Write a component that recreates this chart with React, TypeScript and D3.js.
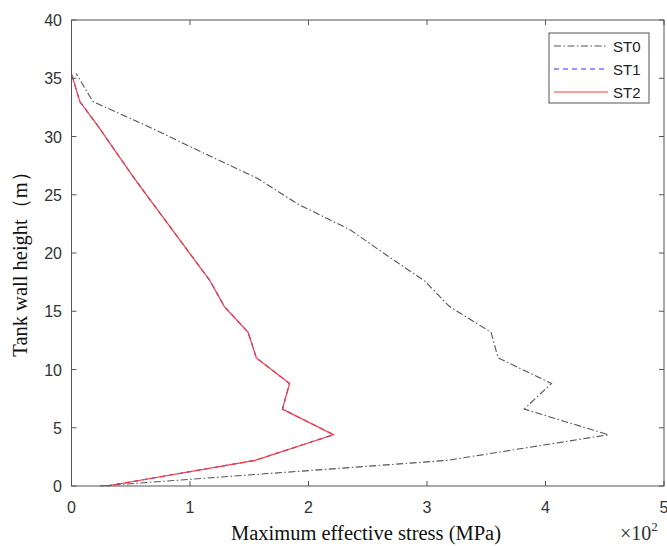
import React from "react";
import * as d3 from "d3";

const heights = [0, 2.2, 4.4, 6.6, 8.8, 11, 13.2, 15.4, 17.6, 19.8, 22, 24.2, 26.4, 28.6, 30.8, 33, 35.4];
const st0 = [0.24, 3.17, 4.53, 3.82, 4.05, 3.6, 3.54, 3.19, 2.98, 2.66, 2.35, 1.91, 1.57, 1.11, 0.66, 0.18, 0.04];
const st1 = [0.3, 1.55, 2.21, 1.78, 1.84, 1.56, 1.49, 1.29, 1.17, 1.01, 0.85, 0.69, 0.53, 0.38, 0.23, 0.07, 0.0];
const st2 = [0.3, 1.55, 2.21, 1.78, 1.84, 1.56, 1.49, 1.29, 1.17, 1.01, 0.85, 0.69, 0.53, 0.38, 0.23, 0.07, 0.0];
const seriesNames = ["ST0", "ST1", "ST2"];
const xTicks = [0, 1, 2, 3, 4, 5];
const yTicks = [0, 5, 10, 15, 20, 25, 30, 35, 40];

const W = 667, H = 546;
const L = 71.5, R = 664, T = 20, B = 486;

export default function App() {
  const x = d3.scaleLinear().domain([0, 5]).range([L, R]);
  const y = d3.scaleLinear().domain([0, 40]).range([B, T]);
  const line = d3.line<[number, number]>().x(d => x(d[0])).y(d => y(d[1]));
  const mk = (vals: number[]) => line(vals.map((v, i) => [v, heights[i]] as [number, number])) || "";
  const styles = [
    { stroke: "#555", dash: "7,2.5,1.5,2.5", width: 1.1 },
    { stroke: "#3030ff", dash: "5,4", width: 1.2 },
    { stroke: "#ff3b3b", dash: "", width: 1.2 },
  ];
  const data = [st0, st1, st2];
  const axisColor = "#555";
  const tickFont = "'Liberation Sans', Arial, sans-serif";
  const serif = "'Liberation Serif', 'Times New Roman', serif";
  const lg = { x: 549, y: 33, w: 100, h: 70 };
  return (
    <svg width={W} height={H} style={{ position: "absolute", left: 0, top: 0, background: "#fff" }}>
      <rect x={0} y={0} width={W} height={H} fill="#fff" />
      <defs>
        <clipPath id="clip"><rect x={L - 2} y={T} width={R - L + 4} height={B - T + 2} /></clipPath>
      </defs>
      <g clipPath="url(#clip)">
        {data.map((d, i) => (
          <path key={i} d={mk(d)} fill="none" stroke={styles[i].stroke} strokeWidth={styles[i].width}
            strokeDasharray={styles[i].dash || undefined} />
        ))}
      </g>
      <rect x={L} y={T} width={R - L} height={B - T} fill="none" stroke={axisColor} strokeWidth={1} />
      {xTicks.map(t => (
        <g key={"x" + t}>
          <line x1={x(t)} x2={x(t)} y1={B} y2={B - 5} stroke={axisColor} />
          <line x1={x(t)} x2={x(t)} y1={T} y2={T + 5} stroke={axisColor} />
          <text x={x(t)} y={513} textAnchor="middle" fontFamily={tickFont} fontSize={16} fill="#333">{t}</text>
        </g>
      ))}
      {yTicks.map(t => (
        <g key={"y" + t}>
          <line x1={L} x2={L + 5} y1={y(t)} y2={y(t)} stroke={axisColor} />
          <line x1={R} x2={R - 5} y1={y(t)} y2={y(t)} stroke={axisColor} />
          <text x={62} y={y(t) + 6} textAnchor="end" fontFamily={tickFont} fontSize={16} fill="#333">{t}</text>
        </g>
      ))}
      <text x={366} y={540} textAnchor="middle" fontFamily={serif} fontSize={20.5} fill="#111">
        Maximum effective stress (MPa)
      </text>
      <text transform={`translate(27,${(T + B) / 2 + 6}) rotate(-90)`} textAnchor="middle" fontFamily={serif} fontSize={20.5} fill="#111">
        Tank wall height（m）
      </text>
      <text x={620} y={540} fontFamily={serif} fontSize={20} fill="#333">
        ×10<tspan dy={-9} fontSize={13}>2</tspan>
      </text>
      <rect x={lg.x} y={lg.y} width={lg.w} height={lg.h} fill="#fff" stroke={axisColor} strokeWidth={1} />
      {seriesNames.map((n, i) => {
        const ly = 46 + i * 23;
        return (
          <g key={n}>
            <line x1={554} x2={608} y1={ly} y2={ly} stroke={styles[i].stroke} strokeWidth={styles[i].width}
              strokeDasharray={styles[i].dash || undefined} />
            <text x={613} y={ly + 5.5} fontFamily={tickFont} fontSize={15} fill="#222">{n}</text>
          </g>
        );
      })}
    </svg>
  );
}
